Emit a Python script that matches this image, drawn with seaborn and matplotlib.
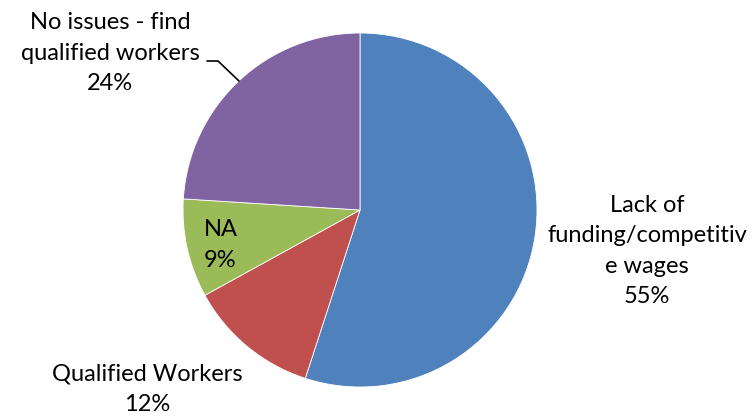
import matplotlib
matplotlib.use("Agg")
import matplotlib.pyplot as plt
import seaborn as sns

# Slices in clockwise order starting at 12 o'clock
categories = ["Lack of\nfunding/competitiv\ne wages", "Qualified Workers", "NA",
              "No issues - find\nqualified workers"]
shares = [55, 12, 9, 24]
colors = ["#4F81BD", "#C0504D", "#9BBB59", "#8064A2"]

sns.set_theme(style="white")
plt.rcParams["font.family"] = ["Lato", "DejaVu Sans"]

W, H = 756, 419
fig = plt.figure(figsize=(W / 100, H / 100), dpi=100)
ax = fig.add_axes([0, 0, 1, 1])

# pie drawn in a y-down pixel frame, so counterclock=True ends up clockwise
wedges, _ = ax.pie(shares, colors=colors, startangle=-90, counterclock=True,
                   center=(360, 210), radius=177, frame=True,
                   wedgeprops=dict(edgecolor="white", linewidth=0.6))
ax.set_xlim(0, W)
ax.set_ylim(H, 0)
ax.set_aspect("equal")
ax.axis("off")

labels = [f"{c}\n{s}%" for c, s in zip(categories, shares)]
fs = 17
ls = 1.56
kw = dict(fontsize=fs, linespacing=ls, color="black", va="center")
ax.text(647, 251, labels[0], ha="center", **kw)
ax.text(147, 389, labels[1], ha="center", **kw)
ax.text(204, 245, labels[2], ha="left", **kw)
ax.text(110, 53, labels[3], ha="center", **kw)

# leader line for the top-left label
ax.plot([207, 218, 239], [61, 61, 81], color="black", lw=1.2)

fig.savefig("out.png", dpi=100)
